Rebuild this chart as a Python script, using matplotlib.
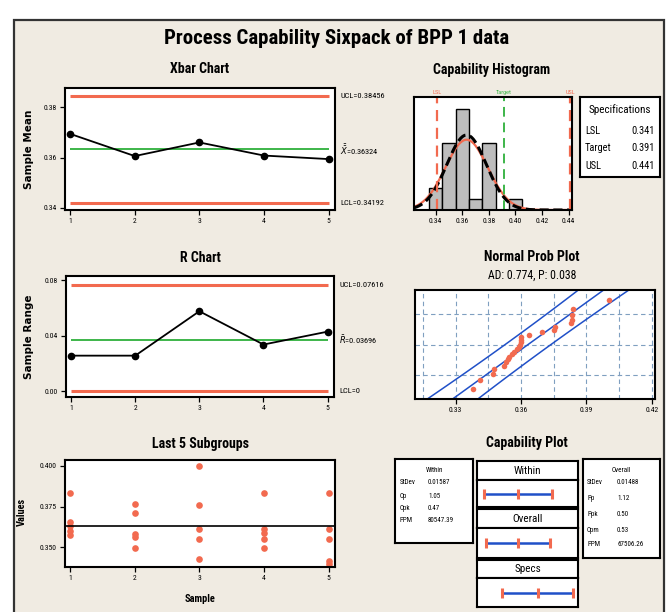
import numpy as np
import matplotlib
matplotlib.use("Agg")
import matplotlib.pyplot as plt
from matplotlib import font_manager
from matplotlib.patches import Rectangle
from statistics import NormalDist

# ---- data ----
samples = [1, 2, 3, 4, 5]
xbar = [0.3694, 0.3606, 0.3660, 0.3608, 0.3594]
ranges = [0.0255, 0.0255, 0.0575, 0.0335, 0.0428]

sub1 = [0.3835, 0.3652, 0.3632, 0.3600, 0.3572]
sub2 = [0.3764, 0.3711, 0.3583, 0.3560, 0.3496]
sub3 = [0.4000, 0.3758, 0.3614, 0.3552, 0.3428]
sub4 = [0.3835, 0.3614, 0.3585, 0.3552, 0.3496]
sub5 = [0.3835, 0.3614, 0.3552, 0.3417, 0.3397]

# individual values (histogram + probability plot)
values = [0.3378, 0.3412, 0.3470, 0.3476, 0.3520, 0.3530, 0.3538, 0.3546,
          0.3560, 0.3570, 0.3580, 0.3590, 0.3597, 0.3598, 0.3598, 0.3600,
          0.3636, 0.3698, 0.3752, 0.3755, 0.3830, 0.3832, 0.3835, 0.3838,
          0.4001]

ucl_x, cl_x, lcl_x = 0.38456, 0.36324, 0.34192
ucl_r, cl_r, lcl_r = 0.07616, 0.03696, 0.0
lsl, target, usl = 0.341, 0.391, 0.441
sd_within, sd_overall = 0.01587, 0.01488

within_rows = [("StDev", "0.01587"), ("Cp", "1.05"), ("Cpk", "0.47"), ("PPM", "80547.39")]
overall_rows = [("StDev", "0.01488"), ("Pp", "1.12"), ("Ppk", "0.50"), ("Cpm", "0.53"),
                ("PPM", "67506.26")]

RED = "#F26A4F"
GREEN = "#3DB54A"
BLUE = "#2050C8"
BG = "#F0EBE2"

# pick a narrow face if one is around
fonts = font_manager.fontManager.ttflist
names = {f.name for f in fonts}
stretch = "normal"
family = "DejaVu Sans"
for cand in ["Liberation Sans Narrow", "Roboto Condensed", "Open Sans Condensed",
             "Noto Sans Condensed"]:
    if cand in names:
        family = cand
        break
else:
    for f in fonts:
        if f.name in ("DejaVu Sans", "Noto Sans", "Open Sans") and \
                str(f.stretch) in ("condensed", "semi-condensed", "75", "87.5"):
            family = f.name
            stretch = "condensed"
            break
plt.rcParams["font.family"] = [family, "DejaVu Sans"]
plt.rcParams["font.stretch"] = stretch
narrow_ok = family != "DejaVu Sans" or stretch == "condensed"
k = 1.0 if narrow_ok else 0.82
WIDE = ["DejaVu Sans"]

W, H = 669, 612
fig = plt.figure(figsize=(W / 100, H / 100), dpi=100)
fig.patch.set_facecolor("white")
fig.add_artist(Rectangle((14 / W, -0.01), (664 - 14) / W, 1.01 - 20 / H,
                         transform=fig.transFigure, facecolor=BG,
                         edgecolor="#333333", lw=1.6, zorder=-5))


def px_axes(l, t, r, b):
    ax = fig.add_axes([l / W, 1 - b / H, (r - l) / W, (b - t) / H])
    for s in ax.spines.values():
        s.set_linewidth(1.5)
    ax.tick_params(labelsize=5.5, length=3.5, width=0.9, pad=2.5)
    return ax


def ftext(x, y, s, **kw):
    fig.text(x / W, 1 - y / H, s, **kw)


ftext(337, 38, "Process Capability Sixpack of BPP 1 data", ha="center", va="center",
      fontsize=15 * k, fontweight="bold")


def control_chart(ax, y, ucl, cl, lcl, lab_u, lab_c, lab_l):
    ax.hlines([ucl, lcl], 1, 5, color=RED, lw=2.2)
    ax.hlines(cl, 1, 5, color=GREEN, lw=1.4)
    ax.plot(samples, y, "k-", marker="o", ms=4.5, lw=1.3)
    ax.set_xlim(0.92, 5.1)
    ax.set_xticks(samples)
    tr = ax.get_yaxis_transform()
    ax.text(1.02, ucl, lab_u, transform=tr, fontsize=6, va="center")
    ax.text(1.02, cl, lab_c, transform=tr, fontsize=6, va="center")
    ax.text(1.02, lcl, lab_l, transform=tr, fontsize=6, va="center")


# Xbar chart
ax1 = px_axes(65, 88, 335, 210)
control_chart(ax1, xbar, ucl_x, cl_x, lcl_x, "UCL=0.38456",
              r"$\bar{\bar{X}}$=0.36324", "LCL=0.34192")
ax1.set_ylim(0.3392, 0.3876)
ax1.set_yticks([0.34, 0.36, 0.38])
ax1.set_yticklabels(["0.34", "0.36", "0.38"])
ftext(200, 69, "Xbar Chart", ha="center", va="center", fontsize=10 * k, fontweight="bold")
ftext(29, 149, "Sample Mean", ha="center", va="center", rotation=90, fontsize=7.5,
      fontweight="bold", family=WIDE)

# R chart
ax2 = px_axes(66, 276, 334, 397)
control_chart(ax2, ranges, ucl_r, cl_r, lcl_r, "UCL=0.07616",
              r"$\bar{R}$=0.03696", "LCL=0")
ax2.set_ylim(-0.0043, 0.0829)
ax2.set_yticks([0.0, 0.04, 0.08])
ax2.set_yticklabels(["0.00", "0.04", "0.08"])
ftext(200, 258, "R Chart", ha="center", va="center", fontsize=10 * k, fontweight="bold")
ftext(29, 337, "Sample Range", ha="center", va="center", rotation=90, fontsize=7.5,
      fontweight="bold", family=WIDE)

# Last 5 subgroups
ax3 = px_axes(65, 460, 335, 567)
for s, grp in zip(samples, [sub1, sub2, sub3, sub4, sub5]):
    ax3.plot([s] * len(grp), grp, "o", color=RED, ms=4.8, mec="none")
ax3.axhline(cl_x, color="black", lw=1.2)
ax3.set_xlim(0.92, 5.1)
ax3.set_xticks(samples)
ax3.set_ylim(0.3377, 0.4037)
ax3.set_yticks([0.35, 0.375, 0.40])
ax3.set_yticklabels(["0.350", "0.375", "0.400"])
ftext(200, 444, "Last 5 Subgroups", ha="center", va="center", fontsize=10 * k,
      fontweight="bold")
ftext(200, 599, "Sample", ha="center", va="center", fontsize=7.5, fontweight="bold")
ftext(22, 512, "Values", ha="center", va="center", rotation=90, fontsize=7.5,
      fontweight="bold")

# Capability histogram
ax4 = px_axes(414, 97, 572, 210)
edges = np.arange(0.335, 0.4151, 0.01)
ax4.hist(values, bins=edges, color="#BDBDBD", edgecolor="black", lw=1)
xs = np.linspace(0.3237, 0.4425, 300)
scale = len(values) * 0.01
pdf_w = np.array([NormalDist(cl_x, sd_within).pdf(v) for v in xs]) * scale
pdf_o = np.array([NormalDist(cl_x, sd_overall).pdf(v) for v in xs]) * scale
ax4.plot(xs, pdf_w, color=RED, lw=1.6)
ax4.plot(xs, pdf_o, color="black", lw=2.2, ls=(0, (3, 1.5)))
ax4.axvline(lsl, color=RED, ls=(0, (5, 3)), lw=1.6)
ax4.axvline(usl, color=RED, ls=(0, (5, 3)), lw=1.6)
ax4.axvline(target, color=GREEN, ls=(0, (5, 3)), lw=1.4)
tr4 = ax4.get_xaxis_transform()
ax4.text(lsl, 1.03, "LSL", transform=tr4, color=RED, fontsize=4.5, ha="center")
ax4.text(target, 1.03, "Target", transform=tr4, color=GREEN, fontsize=4.5, ha="center")
ax4.text(usl, 1.03, "USL", transform=tr4, color=RED, fontsize=4.5, ha="center")
ax4.set_xlim(0.3237, 0.4425)
ax4.set_ylim(0, 10.1)
ax4.set_yticks([])
ax4.set_xticks([0.34, 0.36, 0.38, 0.40, 0.42, 0.44])
ax4.set_xticklabels(["0.34", "0.36", "0.38", "0.40", "0.42", "0.44"])
ftext(492, 70, "Capability Histogram", ha="center", va="center", fontsize=10 * k,
      fontweight="bold")

# specifications box
sp = px_axes(580, 97, 660, 177)
sp.set_xticks([])
sp.set_yticks([])
ftext(620, 110, "Specifications", ha="center", va="center", fontsize=8 * k)
for yy, (lab, v) in zip([131, 148, 166], [("LSL", "0.341"), ("Target", "0.391"),
                                           ("USL", "0.441")]):
    ftext(585, yy, lab, ha="left", va="center", fontsize=7.5 * k)
    ftext(655, yy, v, ha="right", va="center", fontsize=7.5 * k)

# Normal probability plot
ax5 = px_axes(415, 290, 655, 399)
srt = np.sort(values)
n = len(srt)
zq = np.array([NormalDist().inv_cdf((i - 0.3) / (n + 0.4)) for i in range(1, n + 1)])
zz = np.linspace(-2.4, 2.4, 100)
fit = cl_x + sd_overall * zz
hw = 0.0105 * np.sqrt(1 + 0.04 * zz ** 2)
ax5.plot(fit, zz, color=BLUE, lw=1.1)
ax5.plot(fit - hw, zz, color=BLUE, lw=1.1)
ax5.plot(fit + hw, zz, color=BLUE, lw=1.1)
ax5.plot(srt, zq, "o", color=RED, ms=4, mec="none")
for gx in np.arange(0.315, 0.4201, 0.015):
    ax5.axvline(gx, color="#7F9FC0", lw=0.8, ls=(0, (4, 3)), zorder=0)
for gz in [-1.2816, 0, 1.2816]:
    ax5.axhline(gz, color="#7F9FC0", lw=0.8, ls=(0, (4, 3)), zorder=0)
ax5.set_xlim(0.3114, 0.4214)
ax5.set_ylim(-2.326, 2.326)
ax5.set_yticks([])
ax5.set_xticks([0.33, 0.36, 0.39, 0.42])
ax5.set_xticklabels(["0.33", "0.36", "0.39", "0.42"])
ftext(532, 257, "Normal Prob Plot", ha="center", va="center", fontsize=10 * k,
      fontweight="bold")
ftext(532, 275, "AD: 0.774, P: 0.038", ha="center", va="center", fontsize=8.5 * k)

# Capability plot
ftext(527, 443, "Capability Plot", ha="center", va="center", fontsize=10 * k,
      fontweight="bold")

wb = px_axes(395, 459, 473, 543)
wb.set_xticks([])
wb.set_yticks([])
ftext(434, 470, "Within", ha="center", va="center", fontsize=5)
for yy, (lab, v) in zip([483, 497, 508, 520], within_rows):
    ftext(400, yy, lab, ha="left", va="center", fontsize=5)
    ftext(428, yy, v, ha="left", va="center", fontsize=5)

ob = px_axes(583, 459, 660, 558)
ob.set_xticks([])
ob.set_yticks([])
ftext(621, 470, "Overall", ha="center", va="center", fontsize=5)
for yy, (lab, v) in zip([483, 498, 515, 531, 545], overall_rows):
    ftext(587, yy, lab, ha="left", va="center", fontsize=5)
    ftext(617, yy, v, ha="left", va="center", fontsize=5)

cap_rows = [("Within", 461, 480, 507, cl_x - 3 * sd_within, cl_x, cl_x + 3 * sd_within),
            ("Overall", 509, 528, 558, cl_x - 3 * sd_overall, cl_x, cl_x + 3 * sd_overall),
            ("Specs", 560, 578, 607, lsl, target, usl)]
for name, t, m, b, lo, mid, hi in cap_rows:
    hb = px_axes(477, t, 578, m)
    hb.set_xticks([])
    hb.set_yticks([])
    hb.text(0.5, 0.5, name, ha="center", va="center", fontsize=8 * k,
            transform=hb.transAxes)
    lb = px_axes(477, m, 578, b)
    lb.set_xticks([])
    lb.set_yticks([])
    lb.plot([lo, hi], [0.5, 0.5], color=BLUE, lw=1.8)
    lb.plot([lo, mid, hi], [0.5, 0.5, 0.5], "|", color=RED, ms=7, mew=2.2)
    lb.set_xlim(0.3058, 0.448)
    lb.set_ylim(0, 1)

fig.savefig("out.png", dpi=100, facecolor=fig.get_facecolor())
